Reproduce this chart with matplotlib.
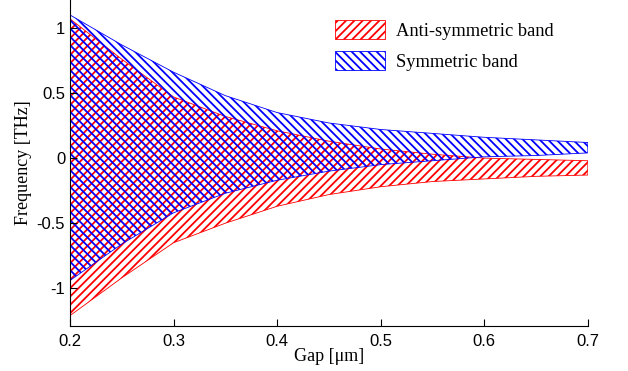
import numpy as np
import matplotlib
matplotlib.use('Agg')
import matplotlib.pyplot as plt

# gap values [um] and band edges [THz]
gap = [0.2, 0.25, 0.3, 0.35, 0.4, 0.45, 0.5, 0.55, 0.6, 0.65, 0.7]
sym_top = [1.10, 0.87, 0.66, 0.48, 0.35, 0.27, 0.22, 0.19, 0.16, 0.14, 0.12]
sym_bot = [-0.94, -0.66, -0.42, -0.27, -0.17, -0.10, -0.05, -0.02, 0.01, 0.02, 0.04]
anti_top = [1.07, 0.76, 0.47, 0.32, 0.21, 0.13, 0.07, 0.03, 0.0, -0.01, -0.02]
anti_bot = [-1.21, -0.92, -0.65, -0.50, -0.37, -0.28, -0.22, -0.18, -0.16, -0.14, -0.13]

xticks = [0.2, 0.3, 0.4, 0.5, 0.6, 0.7]
yticks = [-1, -0.5, 0, 0.5, 1]
ytick_labels = ['-1', '-0.5', '0', '0.5', '1']

plt.rcParams['axes.unicode_minus'] = False
plt.rcParams['hatch.linewidth'] = 1.3

fig = plt.figure(figsize=(6.28, 3.71), dpi=100)
ax = fig.add_axes([0.1115, 0.1213, 0.8245, 0.8787])

anti = ax.fill_between(gap, anti_bot, anti_top, facecolor='none', edgecolor='red',
                       hatch='////', linewidth=0.6, label='Anti-symmetric band')
sym = ax.fill_between(gap, sym_bot, sym_top, facecolor='none', edgecolor='blue',
                      hatch='\\\\\\\\', linewidth=0.6, label='Symmetric band')

ax.set_xlim(0.2, 0.7)
ax.set_ylim(-1.29, 1.215)
ax.set_xticks(xticks)
ax.set_xticklabels([str(t) for t in xticks], family='Liberation Sans', fontsize=12)
ax.set_yticks(yticks)
ax.set_yticklabels(ytick_labels, family='Liberation Sans', fontsize=12)
ax.tick_params(direction='in', length=5, width=0.8)
ax.tick_params(axis='x', pad=6)

ax.spines['top'].set_visible(False)
ax.spines['right'].set_visible(False)

ax.set_xlabel('Gap [\u03bcm]', family='Liberation Serif', fontsize=13, labelpad=-1)
ax.set_ylabel('Frequency [THz]', family='Liberation Serif', fontsize=13, labelpad=3)

ax.legend(handles=[anti, sym], loc='upper left', bbox_to_anchor=(0.48, 0.99),
          frameon=False, handlelength=2.7, handleheight=1.25, labelspacing=0.6,
          handletextpad=0.6, prop={'family': 'Liberation Serif', 'size': 13.3})

fig.savefig('out.png', dpi=100)
